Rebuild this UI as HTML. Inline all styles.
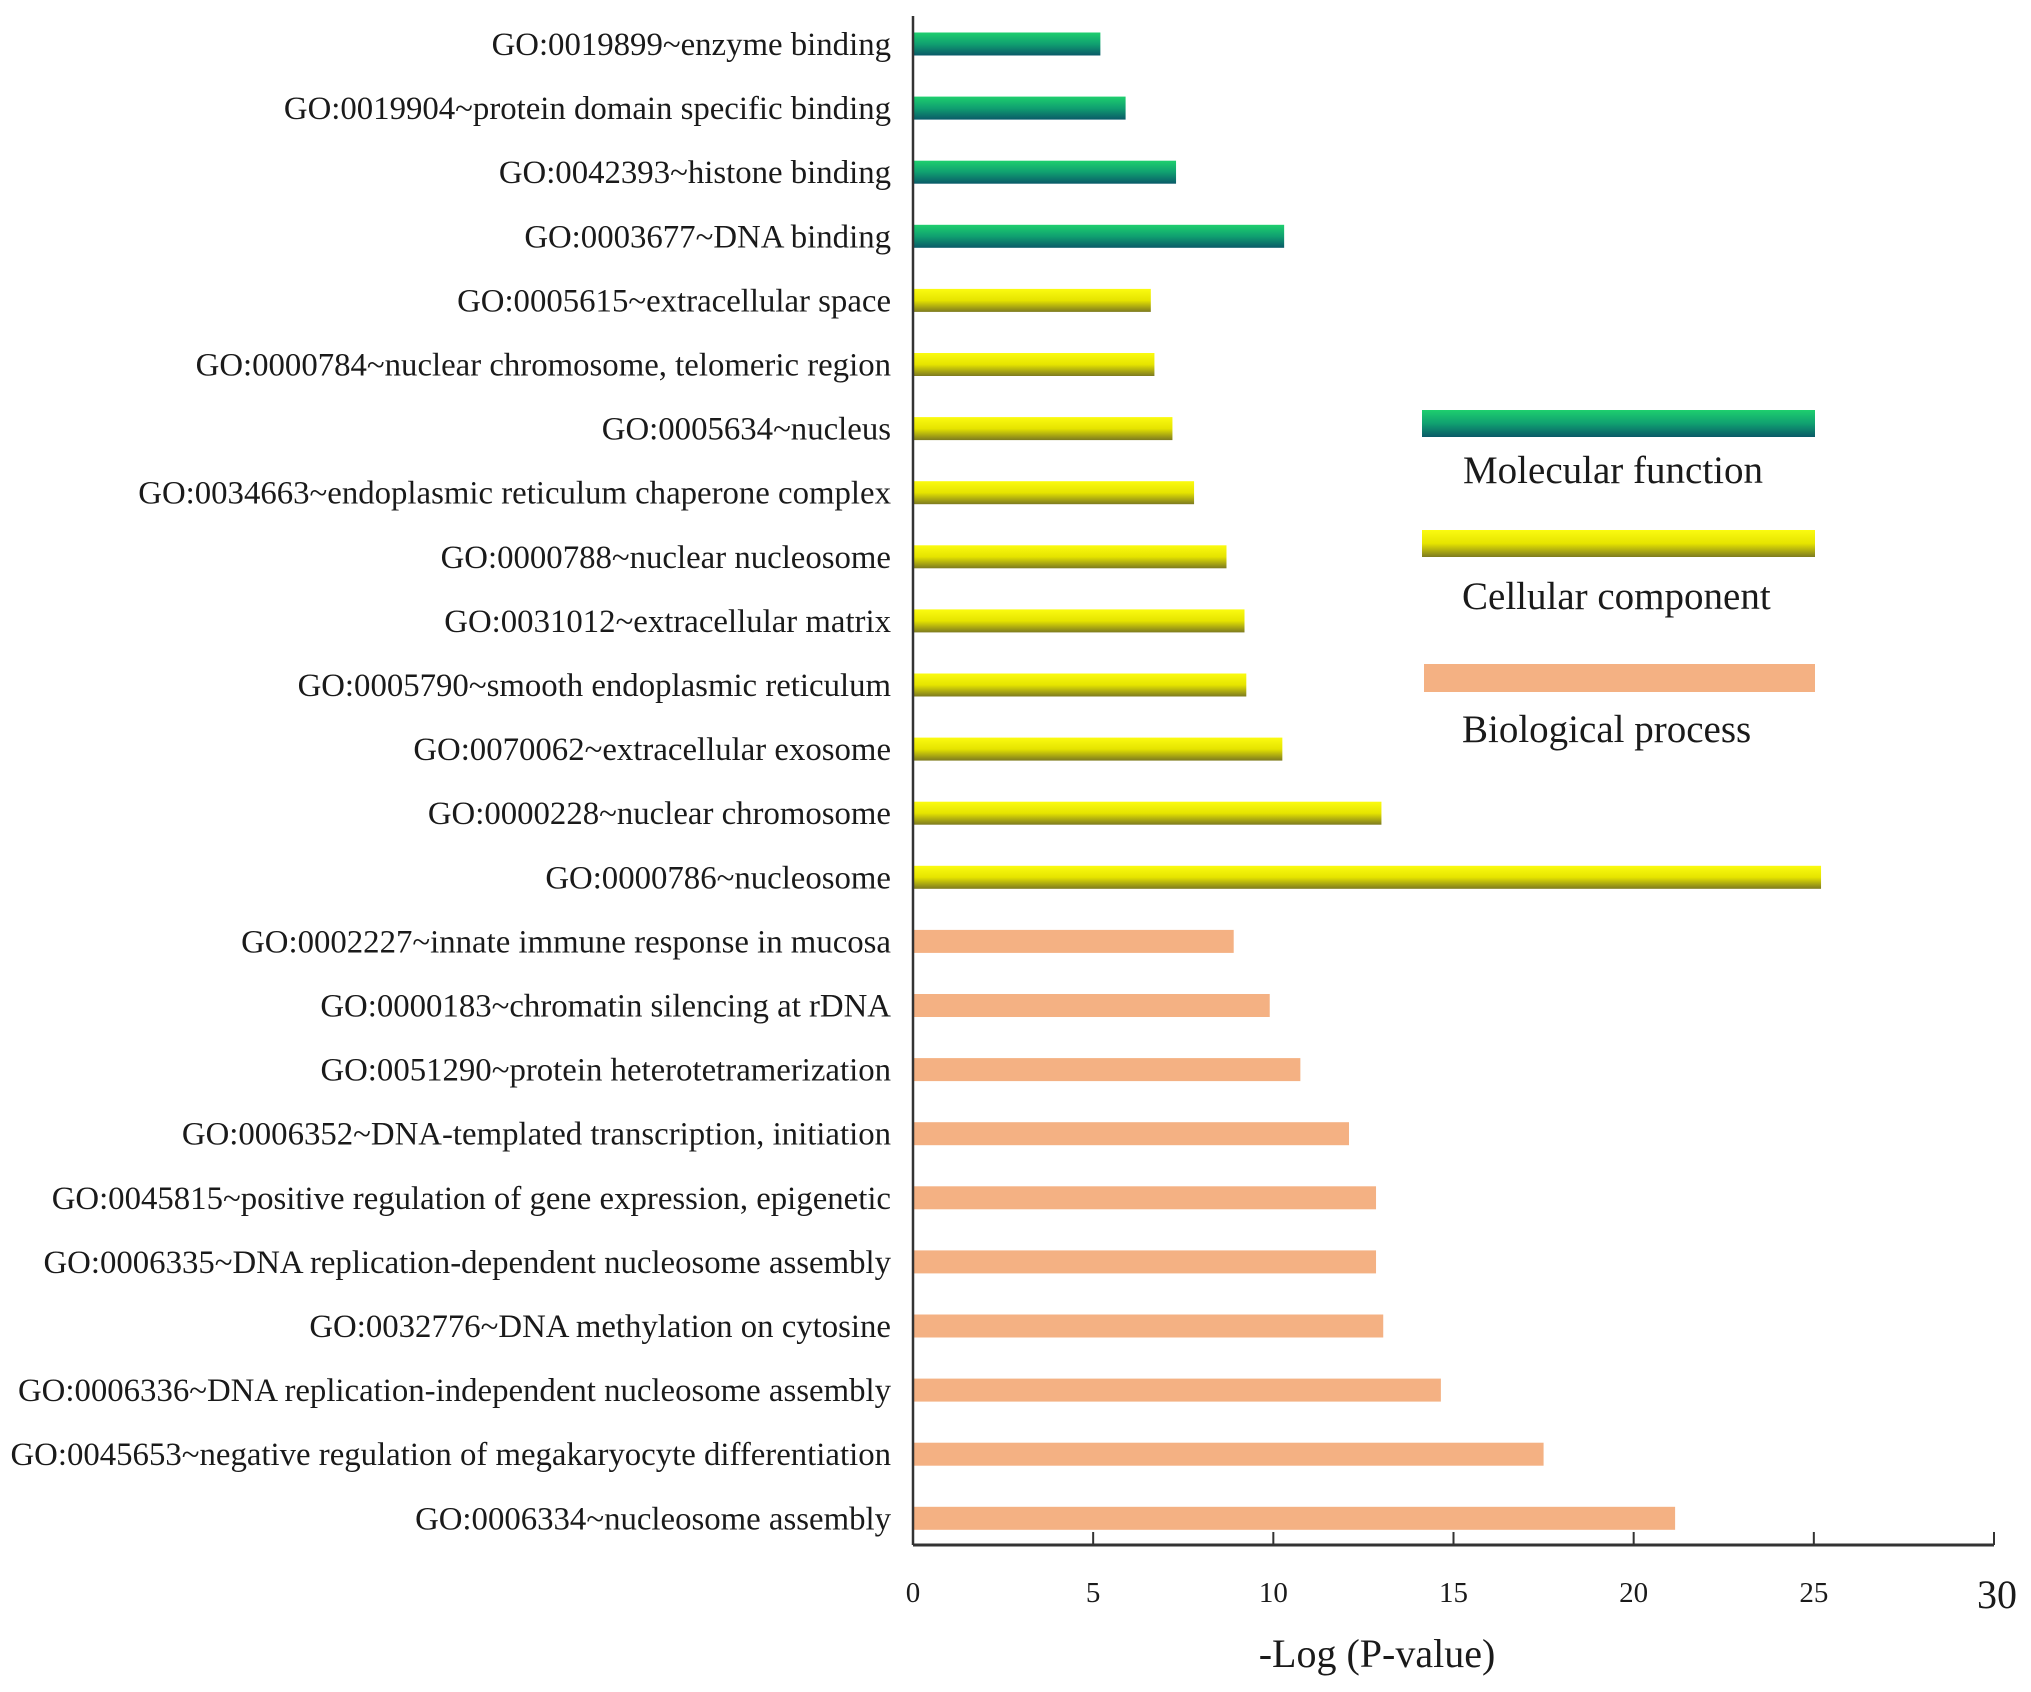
<!DOCTYPE html>
<html><head><meta charset="utf-8"><style>
body{margin:0;background:#fff;}
svg text{font-family:"Liberation Serif",serif;fill:#1a1a1a;}
</style></head><body>
<svg id="chart" width="2031" height="1687" viewBox="0 0 2031 1687" xmlns="http://www.w3.org/2000/svg">
<defs>
<linearGradient id="gMF" x1="0" y1="0" x2="0" y2="1"><stop offset="0" stop-color="#1ecf6e"/><stop offset="0.5" stop-color="#10a070"/><stop offset="1" stop-color="#0a5a68"/></linearGradient>
<linearGradient id="gCC" x1="0" y1="0" x2="0" y2="1"><stop offset="0" stop-color="#fbfb10"/><stop offset="0.5" stop-color="#e6e400"/><stop offset="1" stop-color="#7d7a20"/></linearGradient>
<linearGradient id="gBP" x1="0" y1="0" x2="0" y2="1"><stop offset="0" stop-color="#f4b183"/><stop offset="1" stop-color="#f4b183"/></linearGradient>
</defs>
<g id="bars"></g>
<g id="labels"></g>
<g id="axis"></g>
<text x="1377" y="1667" font-size="40" text-anchor="middle">-Log (P-value)</text>
<g>
<rect x="1422" y="410" width="393" height="27" fill="url(#gMF)"/>
<text x="1463" y="483" font-size="39">Molecular function</text>
<rect x="1422" y="530" width="393" height="27" fill="url(#gCC)"/>
<text x="1462" y="609" font-size="39">Cellular component</text>
<rect x="1424" y="664" width="391" height="28" fill="#f4b183"/>
<text x="1462" y="742" font-size="39">Biological process</text>
</g>
</svg>
<script>
const categories=["GO:0019899~enzyme binding","GO:0019904~protein domain specific binding","GO:0042393~histone binding","GO:0003677~DNA binding","GO:0005615~extracellular space","GO:0000784~nuclear chromosome, telomeric region","GO:0005634~nucleus","GO:0034663~endoplasmic reticulum chaperone complex","GO:0000788~nuclear nucleosome","GO:0031012~extracellular matrix","GO:0005790~smooth endoplasmic reticulum","GO:0070062~extracellular exosome","GO:0000228~nuclear chromosome","GO:0000786~nucleosome","GO:0002227~innate immune response in mucosa","GO:0000183~chromatin silencing at rDNA","GO:0051290~protein heterotetramerization","GO:0006352~DNA-templated transcription, initiation","GO:0045815~positive regulation of gene expression, epigenetic","GO:0006335~DNA replication-dependent nucleosome assembly","GO:0032776~DNA methylation on cytosine","GO:0006336~DNA replication-independent nucleosome assembly","GO:0045653~negative regulation of megakaryocyte differentiation","GO:0006334~nucleosome assembly"];
const values=[5.2,5.9,7.3,10.3,6.6,6.7,7.2,7.8,8.7,9.2,9.25,10.25,13.0,25.2,8.9,9.9,10.75,12.1,12.85,12.85,13.05,14.65,17.5,21.15];
const groups=["MF","MF","MF","MF","CC","CC","CC","CC","CC","CC","CC","CC","CC","CC","BP","BP","BP","BP","BP","BP","BP","BP","BP","BP"];
const tickValues=[0,5,10,15,20,25,30];
const tickLabels=["0","5","10","15","20","25","30"];
const NS="http://www.w3.org/2000/svg";
const x0=913,x1=1994,xMax=30,yTop=16,yBot=1545,rowStart=44,rowStep=64.1,barH=23;
function xs(v){return x0+(x1-x0)*v/xMax;}
function ys(i){return rowStart+i*rowStep;}
function mk(t,a){const e=document.createElementNS(NS,t);for(const k in a)e.setAttribute(k,a[k]);return e;}
const bars=document.getElementById('bars'),labels=document.getElementById('labels'),axis=document.getElementById('axis');
categories.forEach((c,i)=>{
 const r=mk('rect',{x:xs(0),y:ys(i)-barH/2,width:xs(values[i])-xs(0),height:barH,fill:'url(#g'+groups[i]+')'});
 
 
 bars.appendChild(r);
 const t=mk('text',{x:891,y:ys(i)+11,'font-size':32.8,'text-anchor':'end'});
 t.textContent=c;
 
 
 labels.appendChild(t);
});
const yl=mk('line',{x1:x0,y1:yTop,x2:x0,y2:yBot,stroke:'#333','stroke-width':2.5});


axis.appendChild(yl);
const xl=mk('line',{x1:x0,y1:yBot,x2:x1,y2:yBot,stroke:'#333','stroke-width':3});


axis.appendChild(xl);
tickValues.forEach((v,i)=>{
 const tk=mk('line',{x1:xs(v),y1:yBot-13,x2:xs(v),y2:yBot,stroke:'#333','stroke-width':2});
 
 
 axis.appendChild(tk);
 const big=(v===30);
 const tl=mk('text',{x:xs(v)+(big?3:0),y:big?1608:1602,'font-size':big?40:29,'text-anchor':'middle'});
 tl.textContent=tickLabels[i];
 
 
 axis.appendChild(tl);
});
</script>
</body></html>
